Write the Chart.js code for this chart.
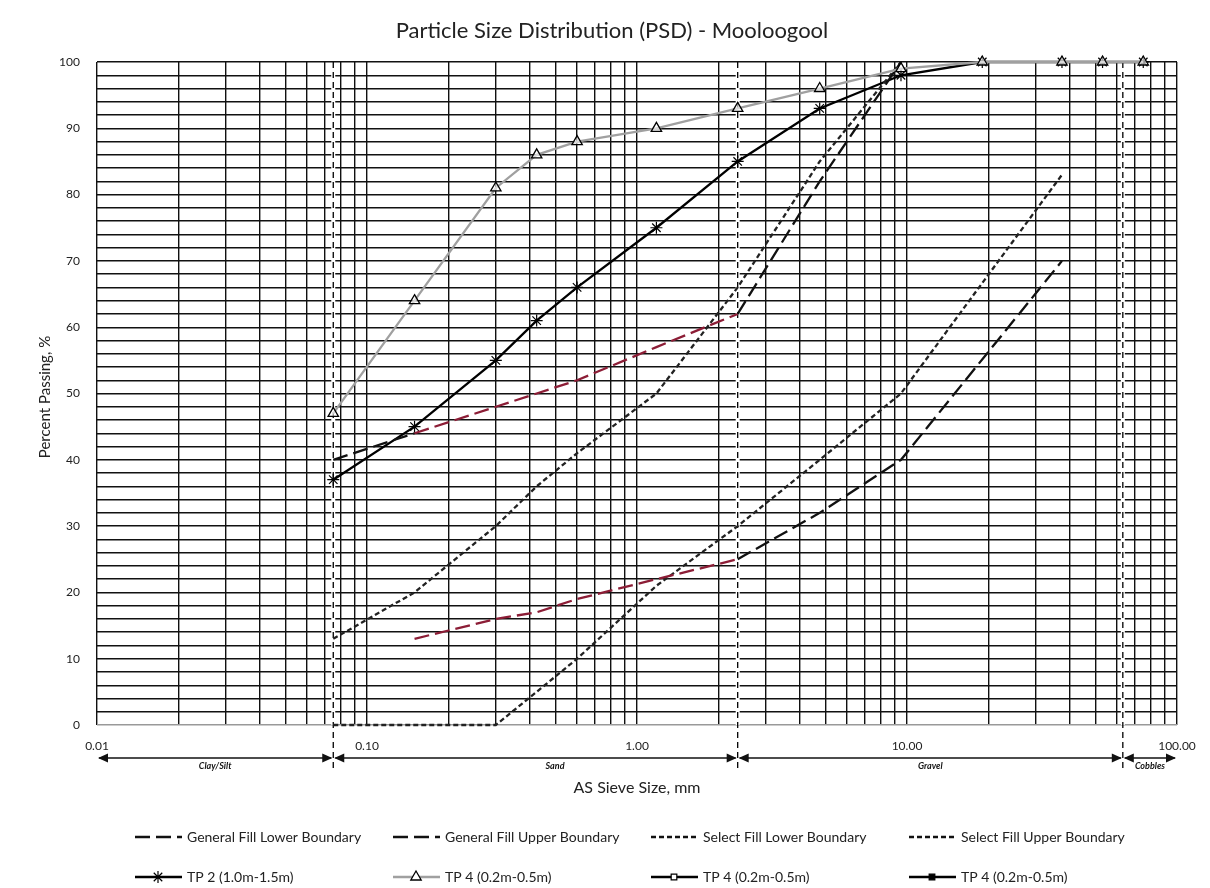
<!DOCTYPE html>
<html>
<head>
<meta charset="utf-8">
<script src="https://cdn.jsdelivr.net/npm/chart.js@4.4.1/dist/chart.umd.min.js"></script>
<style>
  html, body { margin: 0; padding: 0; background: #fff; }
</style>
</head>
<body>
<canvas id="psd" width="1210" height="888"></canvas>
<script>
// sieve sizes (mm) and % passing
const sieveSizes = [0.075, 0.15, 0.3, 0.425, 0.6, 1.18, 2.36, 4.75, 9.5, 19, 37.5, 53, 75];
const genLower = [null, 13, 16, 17, 19, 22, 25, 32, 40, null, 70, null, null];
const genUpper = [40, 44, 48, 50, 52, 57, 62, 82, 100, null, null, null, null];
const selLower = [0, 0, 0, 5, 10, 21, 30, 40, 50, null, 83, null, null];
const selUpper = [13, 20, 30, 36, 41, 50, 66, 85, 100, null, null, null, null];
const tp2 = [37, 45, 55, 61, 66, 75, 85, 93, 98, 100, 100, 100, 100];
const tp4 = [47, 64, 81, 86, 88, 90, 93, 96, 99, 100, 100, 100, 100];
const tp4Open = [];
const tp4Filled = [];

const seriesNames = [
  'General Fill Lower Boundary', 'General Fill Upper Boundary',
  'Select Fill Lower Boundary', 'Select Fill Upper Boundary',
  'TP 2 (1.0m-1.5m)', 'TP 4 (0.2m-0.5m)', 'TP 4 (0.2m-0.5m)', 'TP 4 (0.2m-0.5m)'
];

const xTickValues = [0.01, 0.1, 1, 10, 100];
const xTickLabels = ['0.01', '0.10', '1.00', '10.00', '100.00'];
const yTickLabels = ['0', '10', '20', '30', '40', '50', '60', '70', '80', '90', '100'];

const zoneLimits = [0.01, 0.075, 2.36, 63, 100];
const zoneNames = ['Clay/Silt', 'Sand', 'Gravel', 'Cobbles'];

// grid lines: every 1..9 of each decade, every 2 %
const gridX = [];
for (let e = -2; e < 2; e++) {
  for (let m = 1; m < 10; m++) gridX.push(m * Math.pow(10, e));
}
gridX.push(100);
const gridY = [];
for (let v = 0; v <= 100; v += 2) gridY.push(v);

const FONT = 'Lato, "Open Sans", sans-serif';
const RED = '#8c1d36';

function pts(values) {
  return sieveSizes.map((s, i) => ({ x: s, y: values[i] }));
}

const redPart = ctx => (ctx.p0.parsed.x >= 0.15 && ctx.p1.parsed.x <= 2.36) ? RED : '#111';

const datasets = [
  { label: seriesNames[0], data: pts(genLower), borderColor: '#111', borderWidth: 2.3, borderDash: [15, 6],
    segment: { borderColor: redPart }, pointRadius: 0 },
  { label: seriesNames[1], data: pts(genUpper), borderColor: '#111', borderWidth: 2.3, borderDash: [15, 6],
    segment: { borderColor: redPart }, pointRadius: 0 },
  { label: seriesNames[2], data: pts(selLower), borderColor: '#222', borderWidth: 2.3, borderDash: [5, 3],
    pointRadius: 0, clip: false },
  { label: seriesNames[3], data: pts(selUpper), borderColor: '#222', borderWidth: 2.3, borderDash: [5, 3],
    pointRadius: 0 },
  { label: seriesNames[4], data: pts(tp2), borderColor: '#000', borderWidth: 2.3, clip: false,
    pointStyle: 'star', pointRadius: 6, pointBorderWidth: 1.2, pointBorderColor: '#000', pointBackgroundColor: '#000' },
  { label: seriesNames[5], data: pts(tp4), borderColor: '#a0a0a0', borderWidth: 2.3, clip: false, order: -1,
    pointStyle: 'triangle', pointRadius: 6, pointBorderWidth: 1.3, pointBorderColor: '#000', pointBackgroundColor: 'rgba(255,255,255,0.6)' },
  { label: seriesNames[6], data: tp4Open, borderColor: '#000', borderWidth: 2,
    pointStyle: 'rect', pointRadius: 4, pointBorderWidth: 1.2, pointBorderColor: '#000', pointBackgroundColor: '#fff' },
  { label: seriesNames[7], data: tp4Filled, borderColor: '#000', borderWidth: 2,
    pointStyle: 'rect', pointRadius: 4, pointBorderWidth: 1.2, pointBorderColor: '#000', pointBackgroundColor: '#000' }
];

function arrowHead(ctx, x, y, dir) {
  ctx.beginPath();
  ctx.moveTo(x, y);
  ctx.lineTo(x - dir * 10, y - 4.5);
  ctx.lineTo(x - dir * 10, y + 4.5);
  ctx.closePath();
  ctx.fill();
}

const decorations = {
  id: 'decorations',
  beforeDatasetsDraw(chart) {
    const { ctx, chartArea: a, scales: { x } } = chart;
    ctx.save();
    ctx.strokeStyle = '#000';
    ctx.lineWidth = 1.3;
    ctx.setLineDash([6, 4]);
    zoneLimits.slice(1, -1).forEach(v => {
      const px = x.getPixelForValue(v);
      ctx.fillStyle = '#fff';
      ctx.fillRect(px - 2, a.top + 1, 4, a.bottom - a.top - 1);
      ctx.beginPath();
      ctx.moveTo(px, a.top);
      ctx.lineTo(px, a.bottom + 45);
      ctx.stroke();
    });
    ctx.restore();
  },
  afterDraw(chart) {
    const { ctx, chartArea: a, scales: { x } } = chart;
    ctx.save();

    // title
    ctx.fillStyle = '#222';
    ctx.textAlign = 'center';
    ctx.textBaseline = 'middle';
    ctx.font = '22px ' + FONT;
    ctx.fillText('Particle Size Distribution (PSD) - Mooloogool', 612, 31);

    // axis titles
    ctx.font = '16px ' + FONT;
    ctx.fillText('AS Sieve Size, mm', (a.left + a.right) / 2, 788);
    ctx.save();
    ctx.translate(45, 397);
    ctx.rotate(-Math.PI / 2);
    ctx.font = '15px ' + FONT;
    ctx.fillText('Percent Passing, %', 0, 0);
    ctx.restore();

    // soil zone arrows
    const ay = 758;
    ctx.strokeStyle = '#111';
    ctx.fillStyle = '#111';
    ctx.lineWidth = 1.3;
    for (let i = 0; i < zoneNames.length; i++) {
      const x0 = x.getPixelForValue(zoneLimits[i]);
      const x1 = x.getPixelForValue(zoneLimits[i + 1]);
      ctx.beginPath();
      ctx.moveTo(x0 + 2, ay);
      ctx.lineTo(x1 - 2, ay);
      ctx.stroke();
      arrowHead(ctx, x0 + 1, ay, -1);
      arrowHead(ctx, x1 - 1, ay, 1);
      ctx.font = 'italic bold 9px ' + FONT;
      ctx.textAlign = 'center';
      ctx.fillText(zoneNames[i], i === 1 ? 555 : (x0 + x1) / 2, ay + 8);
    }

    // legend, 4 columns x 2 rows
    const cols = [135, 393, 651, 909];
    const rows = [837, 877];
    ctx.font = '14px ' + FONT;
    ctx.textAlign = 'left';
    chart.data.datasets.forEach((ds, i) => {
      const lx = cols[i % 4];
      const ly = rows[Math.floor(i / 4)];
      ctx.save();
      ctx.strokeStyle = i < 4 ? '#111' : ds.borderColor;
      ctx.lineWidth = 2.3;
      ctx.setLineDash(ds.borderDash || []);
      ctx.beginPath();
      ctx.moveTo(lx, ly);
      ctx.lineTo(lx + 47, ly);
      ctx.stroke();
      ctx.setLineDash([]);
      if (ds.pointRadius && Chart.helpers && Chart.helpers.drawPoint) {
        ctx.strokeStyle = ds.pointBorderColor;
        ctx.fillStyle = i === 5 ? '#fff' : ds.pointBackgroundColor;
        ctx.lineWidth = ds.pointBorderWidth;
        Chart.helpers.drawPoint(ctx, { pointStyle: ds.pointStyle, radius: ds.pointRadius, borderWidth: ds.pointBorderWidth, rotation: 0 }, lx + 23, ly);
      }
      ctx.restore();
      ctx.fillStyle = '#222';
      ctx.textBaseline = 'middle';
      ctx.fillText(ds.label, lx + 52, ly);
    });

    ctx.restore();
  }
};

new Chart(document.getElementById('psd'), {
  type: 'line',
  data: { datasets },
  options: {
    responsive: false,
    animation: false,
    spanGaps: true,
    layout: { padding: { top: 62, right: 33, bottom: 0, left: 0 } },
    plugins: { legend: { display: false }, title: { display: false }, tooltip: { enabled: false } },
    scales: {
      x: {
        type: 'logarithmic',
        min: 0.01,
        max: 100,
        afterBuildTicks: s => { s.ticks = gridX.map(v => ({ value: v })); },
        afterFit: s => { s.height = 163; },
        grid: { color: '#111', lineWidth: 1.4, drawTicks: false },
        border: { display: false },
        ticks: {
          autoSkip: false, maxRotation: 0, padding: 14, color: '#222',
          font: { family: FONT, size: 12 },
          callback: v => {
            const i = xTickValues.findIndex(t => Math.abs(v - t) < t * 1e-6);
            return i < 0 ? '' : xTickLabels[i];
          }
        }
      },
      y: {
        type: 'linear',
        min: 0,
        max: 100,
        afterBuildTicks: s => { s.ticks = gridY.map(v => ({ value: v })); },
        afterFit: s => { s.width = 97; },
        grid: { color: ctx => ctx.tick.value === 0 ? '#999' : '#111', lineWidth: 1.4, drawTicks: false },
        border: { display: false },
        ticks: {
          autoSkip: false, padding: 17, color: '#222',
          font: { family: FONT, size: 12 },
          callback: v => v % 10 === 0 ? yTickLabels[v / 10] : ''
        }
      }
    }
  },
  plugins: [decorations]
});
</script>
</body>
</html>
